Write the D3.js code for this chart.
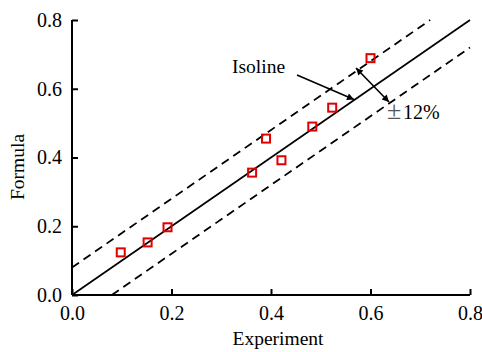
<!DOCTYPE html>
<html>
<head>
<meta charset="utf-8">
<script src="https://cdn.jsdelivr.net/npm/d3@7"></script>
<style>
body { margin: 0; background: #fff; }
text { font-family: "Liberation Serif", "Times New Roman", serif; fill: #000; }
</style>
</head>
<body>
<svg id="chart" width="482" height="352"></svg>
<script>
// measured points
var expVals = [0.098, 0.152, 0.192, 0.362, 0.390, 0.421, 0.483, 0.523, 0.600]
var formulaVals = [0.124, 0.153, 0.197, 0.356, 0.455, 0.392, 0.490, 0.545, 0.689]
var tickVals = [0.0, 0.2, 0.4, 0.6, 0.8]
// reference lines [x, y] end points
var isoLine = [[0, 0], [0.8, 0.8]]
var upperLine = [[0, 0.08], [0.72, 0.8]]
var lowerLine = [[0.08, 0], [0.8, 0.72]]

var svg = d3.select("#chart")
var x = d3.scaleLinear().domain([0, 0.8]).range([72, 470])
var y = d3.scaleLinear().domain([0, 0.8]).range([295, 20])

var defs = svg.append("defs")
defs.append("marker")
	.attr("id", "arrow")
	.attr("viewBox", "0 0 10 10")
	.attr("refX", 10).attr("refY", 5)
	.attr("markerWidth", 9).attr("markerHeight", 7)
	.attr("markerUnits", "userSpaceOnUse")
	.attr("orient", "auto-start-reverse")
	.append("path").attr("d", "M0,0 L10,5 L0,10 Z").attr("fill", "#000")

var line = d3.line().x(function(d) { return x(d[0]) }).y(function(d) { return y(d[1]) })

svg.append("path").attr("d", line(isoLine))
	.attr("stroke", "#000").attr("stroke-width", 1.7).attr("fill", "none")
svg.append("path").attr("d", line(upperLine))
	.attr("stroke", "#000").attr("stroke-width", 1.8).attr("fill", "none")
	.attr("stroke-dasharray", "8.5,5.5")
svg.append("path").attr("d", line(lowerLine))
	.attr("stroke", "#000").attr("stroke-width", 1.8).attr("fill", "none")
	.attr("stroke-dasharray", "8.5,5.5")

// axes
var xAxis = d3.axisBottom(x).tickValues(tickVals).tickSize(-6).tickFormat(d3.format(".1f")).tickPadding(14)
var yAxis = d3.axisLeft(y).tickValues(tickVals).tickSize(-6).tickFormat(d3.format(".1f")).tickPadding(10)

var gx = svg.append("g").attr("transform", "translate(0," + y(0) + ")").call(xAxis)
var gy = svg.append("g").attr("transform", "translate(" + x(0) + ",0)").call(yAxis)
;[gx, gy].forEach(function(g) {
	g.select(".domain").attr("stroke-width", 2)
	g.selectAll(".tick line").attr("stroke-width", 2)
	g.selectAll("text").style("font-size", "20px").style("font-family", "Liberation Serif")
})
gx.select(".domain").attr("d", "M" + x(0) + ",0H" + x(0.8))
gy.select(".domain").attr("d", "M0," + y(0) + "V" + y(0.8))
gx.selectAll("text").attr("dy", "0.71em").attr("y", 11)

// points
svg.selectAll(".pt").data(expVals).enter()
	.append("rect").attr("class", "pt")
	.attr("x", function(d) { return x(d) - 4 })
	.attr("y", function(d, i) { return y(formulaVals[i]) - 4 })
	.attr("width", 8).attr("height", 8)
	.attr("fill", "none").attr("stroke", "#e00000").attr("stroke-width", 2)

// annotations
svg.append("text").attr("x", 232).attr("y", 73).style("font-size", "19.5px").text("Isoline")
svg.append("line").attr("x1", 297).attr("y1", 75).attr("x2", 354).attr("y2", 99.5)
	.attr("stroke", "#000").attr("stroke-width", 1.6).attr("marker-end", "url(#arrow)")
svg.append("line").attr("x1", 356).attr("y1", 68).attr("x2", 389).attr("y2", 102)
	.attr("stroke", "#000").attr("stroke-width", 1.6)
	.attr("marker-start", "url(#arrow)").attr("marker-end", "url(#arrow)")
var pm = svg.append("text").attr("y", 119).style("font-size", "20px")
pm.append("tspan").attr("x", 387).attr("fill", "#555").style("font-size", "26px").text("±")
pm.append("tspan").attr("x", 403).text("12%")

// axis titles
svg.append("text").attr("x", 278).attr("y", 345).attr("text-anchor", "middle")
	.style("font-size", "19.5px").text("Experiment")
svg.append("text").attr("transform", "translate(24,167) rotate(-90)").attr("text-anchor", "middle")
	.style("font-size", "19.5px").text("Formula")
</script>
</body>
</html>
